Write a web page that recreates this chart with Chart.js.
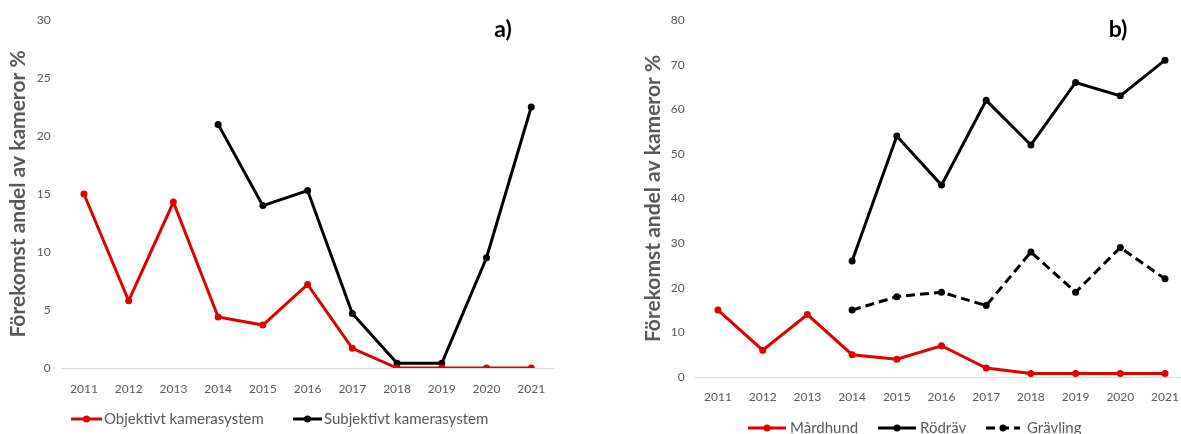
<!DOCTYPE html>
<html>
<head>
<meta charset="utf-8">
<script src="https://cdn.jsdelivr.net/npm/chart.js@4.4.1/dist/chart.umd.min.js"></script>
<style>
  html, body { margin: 0; padding: 0; background: #fff; overflow: hidden; width: 1181px; height: 434px; }
  canvas { position: absolute; top: 0; }
  #ca { left: 0; }
  #cb { left: 590px; }
</style>
</head>
<body>
<canvas id="ca" width="580" height="434"></canvas>
<canvas id="cb" width="620" height="450"></canvas>
<script>
// ---- data ----
const years = ['2011', '2012', '2013', '2014', '2015', '2016', '2017', '2018', '2019', '2020', '2021'];
const objektivt = [15, 5.8, 14.3, 4.4, 3.7, 7.2, 1.7, 0, 0, 0, 0];
const subjektivt = [null, null, null, 21, 14, 15.3, 4.7, 0.4, 0.4, 9.5, 22.5];
const mardhund = [15, 6, 14, 5, 4, 7, 2, 0.8, 0.8, 0.8, 0.8];
const rodrav = [null, null, null, 26, 54, 43, 62, 52, 66, 63, 71];
const gravling = [null, null, null, 15, 18, 19, 16, 28, 19, 29, 22];
const yTicksA = [0, 5, 10, 15, 20, 25, 30];
const yTicksB = [0, 10, 20, 30, 40, 50, 60, 70, 80];
const yTitle = 'Förekomst andel av kameror %';

const RED = '#e00000';
const BLACK = '#000000';
const GREY = '#595959';

// legend + panel tag drawn on the canvas
const legendPlugin = {
  id: 'excelLegend',
  afterDraw(chart, args, opts) {
    const ctx = chart.ctx;
    ctx.save();
    (opts.items || []).forEach((it, i) => {
      const ds = chart.data.datasets[i];
      ctx.strokeStyle = ds.borderColor;
      ctx.lineWidth = ds.borderWidth;
      ctx.setLineDash(ds.borderDash || []);
      ctx.beginPath();
      ctx.moveTo(it.x0, it.y);
      ctx.lineTo(it.x1, it.y);
      ctx.stroke();
      ctx.setLineDash([]);
      ctx.fillStyle = ds.borderColor;
      ctx.beginPath();
      ctx.arc((it.x0 + it.x1) / 2, it.y, ds.pointRadius, 0, Math.PI * 2);
      ctx.fill();
      ctx.fillStyle = GREY;
      ctx.font = opts.font;
      ctx.textAlign = 'left';
      ctx.textBaseline = 'middle';
      ctx.fillText(ds.label, it.tx, it.y);
    });
    if (opts.tag) {
      ctx.fillStyle = '#000';
      ctx.font = 'bold 23px Lato';
      ctx.textAlign = 'center';
      ctx.textBaseline = 'middle';
      ctx.fillText(opts.tag.text, opts.tag.x, opts.tag.y);
    }
    ctx.restore();
  }
};

function lineDs(label, data, color, dash) {
  return {
    label, data,
    borderColor: color, backgroundColor: color,
    pointBackgroundColor: color, pointBorderColor: color,
    borderWidth: 3, pointRadius: 3.5, pointBorderWidth: 0,
    borderDash: dash || [], tension: 0, spanGaps: false
  };
}

function makeChart(id, datasets, ticks, cfg) {
  return new Chart(document.getElementById(id), {
    type: 'line',
    data: { labels: years, datasets },
    plugins: [legendPlugin],
    options: {
      responsive: false,
      animation: false,
      devicePixelRatio: 1,
      layout: { padding: cfg.padding },
      plugins: {
        legend: { display: false },
        tooltip: { enabled: false },
        excelLegend: { items: cfg.legend, font: '15px Lato', tag: cfg.tag }
      },
      scales: {
        x: {
          type: 'category',
          offset: true,
          grid: { display: false, drawTicks: false },
          border: { display: true, color: '#d9d9d9', width: 1 },
          ticks: { color: GREY, font: { family: 'Lato', size: 12 }, padding: cfg.xPad, maxRotation: 0 },
          afterFit(scale) { scale.height = cfg.xHeight; }
        },
        y: {
          min: ticks[0], max: ticks[ticks.length - 1],
          grid: { display: false, drawTicks: false },
          border: { display: false },
          ticks: { stepSize: ticks[1] - ticks[0], color: GREY, font: { family: 'Lato', size: 12 }, padding: 11 },
          title: {
            display: true, text: yTitle, color: GREY,
            font: { family: 'Lato', size: 21, weight: 'bold' },
            padding: { top: 5.4, bottom: 0 }
          },
          afterFit(scale) { scale.width = cfg.yWidth; }
        }
      }
    }
  });
}

makeChart('ca', [
  lineDs('Objektivt kamerasystem', objektivt, RED),
  lineDs('Subjektivt kamerasystem', subjektivt, BLACK)
], yTicksA, {
  padding: { left: 0, top: 20, right: 26.4, bottom: 0 },
  yWidth: 61.6, xHeight: 66, xPad: 14,
  legend: [ { x0: 71, x1: 102, tx: 104, y: 419 }, { x0: 293, x1: 322, tx: 324, y: 419 } ],
  tag: { text: 'a)', x: 503, y: 30 }
});

makeChart('cb', [
  lineDs('Mårdhund', mardhund, RED),
  lineDs('Rödräv', rodrav, BLACK),
  lineDs('Grävling', gravling, BLACK, [9, 5])
], yTicksB, {
  padding: { left: 45, top: 20, right: 22.65, bottom: 0 },
  yWidth: 60.65, xHeight: 73, xPad: 13,
  legend: [ { x0: 158, x1: 196, tx: 200, y: 428 }, { x0: 288, x1: 326, tx: 330, y: 428 }, { x0: 396, x1: 430, tx: 437, y: 428 } ],
  tag: { text: 'b)', x: 528, y: 30 }
});
</script>
</body>
</html>
